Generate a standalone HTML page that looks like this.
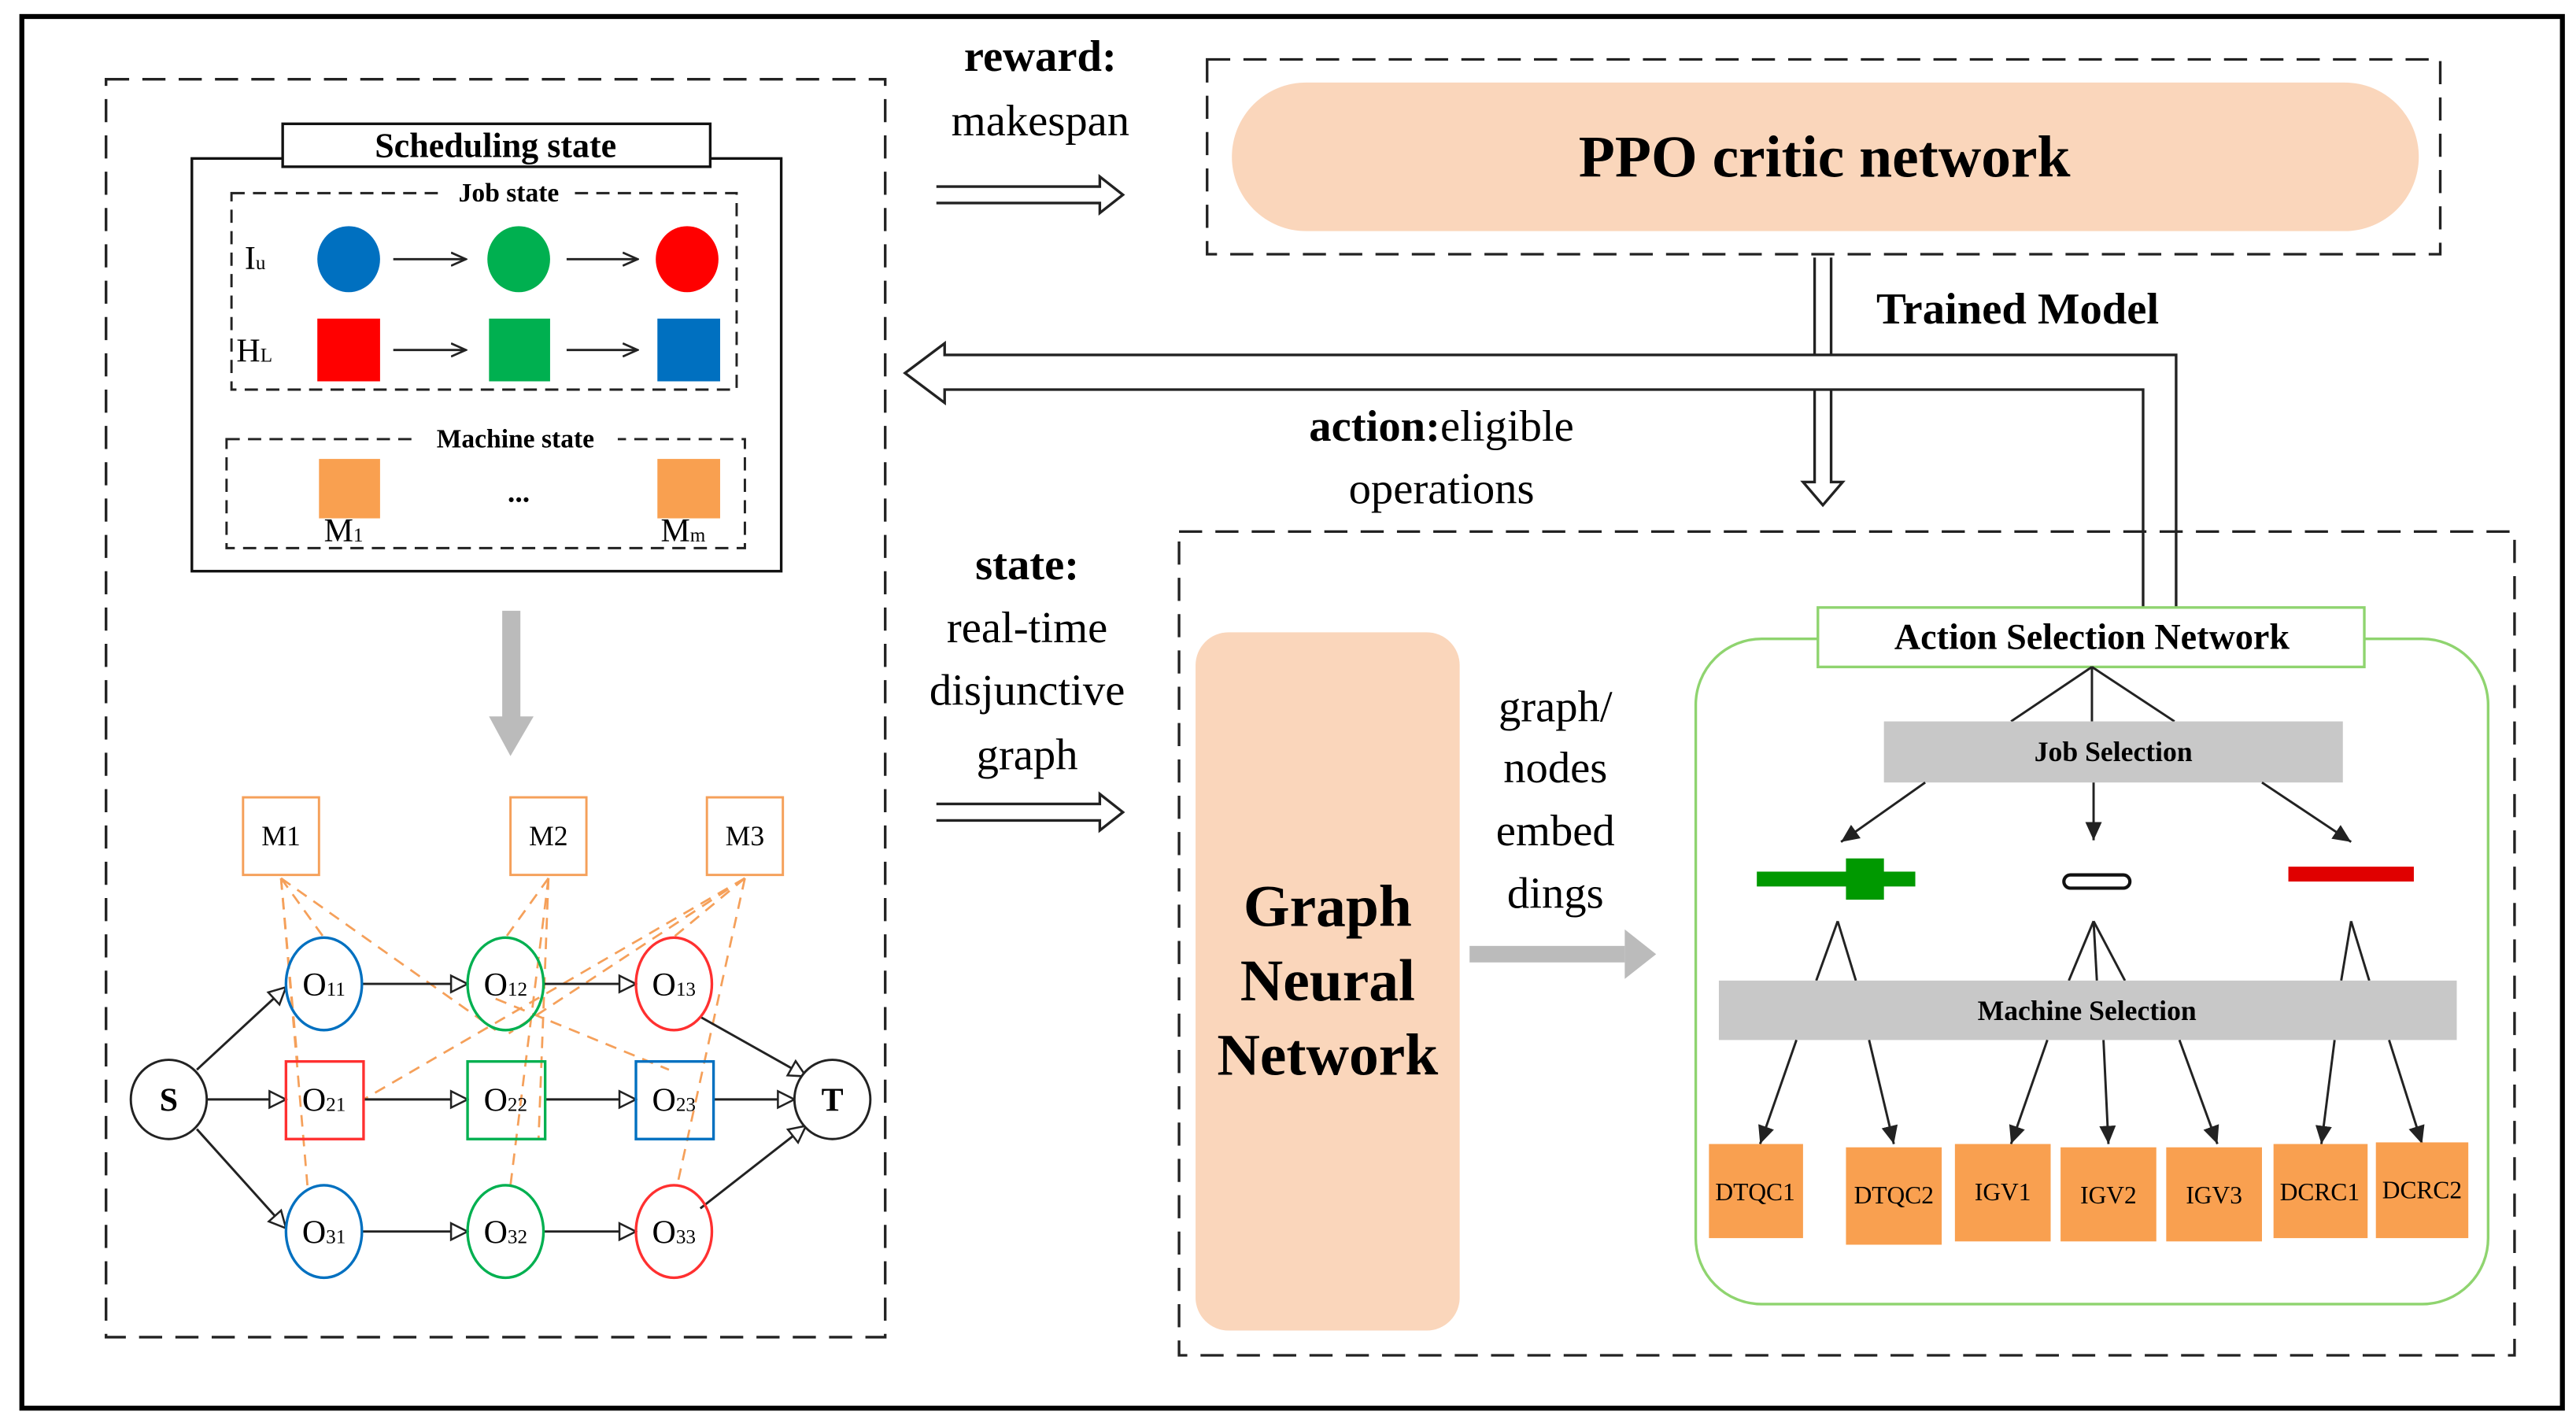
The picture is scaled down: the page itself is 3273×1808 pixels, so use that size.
<!DOCTYPE html>
<html><head><meta charset="utf-8"><style>
html,body{margin:0;padding:0;background:#fff;}
svg{display:block;}
text{font-family:"Liberation Serif","Noto Serif CJK SC","DejaVu Serif",serif;}
</style></head><body>
<svg width="3273" height="1808" viewBox="0 0 1560 862" xmlns="http://www.w3.org/2000/svg">
<defs>
<marker id="ah" markerWidth="10" markerHeight="10" refX="9" refY="5" orient="auto" markerUnits="userSpaceOnUse"><path d="M0,1 L9,5 L0,9" fill="none" stroke="#222" stroke-width="1.3"/></marker>
<marker id="ho" markerWidth="12" markerHeight="12" refX="11" refY="6" orient="auto" markerUnits="userSpaceOnUse"><path d="M1,1 L11,6 L1,11 Z" fill="#fff" stroke="#222" stroke-width="1.2"/></marker>
<marker id="fa" markerWidth="12" markerHeight="12" refX="11" refY="6" orient="auto" markerUnits="userSpaceOnUse"><path d="M0,1 L11,6 L0,11 Z" fill="#222"/></marker>
</defs>
<rect width="1560" height="862" fill="#fff"/>
<rect x="13" y="10" width="1539" height="843" fill="none" stroke="#000" stroke-width="3"/>

<rect x="64" y="48" width="472" height="762" fill="none" stroke="#222" stroke-width="1.6" stroke-dasharray="14,8"/>
<rect x="116" y="96" width="357" height="250" fill="none" stroke="#111" stroke-width="1.6"/>
<rect x="171" y="75" width="259" height="26" fill="#fff" stroke="#111" stroke-width="1.6"/>
<text x="300" y="95" font-size="21" font-weight="bold" text-anchor="middle">Scheduling state</text>
<rect x="140" y="117" width="306" height="119" fill="none" stroke="#222" stroke-width="1.4" stroke-dasharray="8,5"/>
<rect x="268" y="108" width="80" height="16" fill="#fff"/>
<text x="308" y="122" font-size="16" font-weight="bold" text-anchor="middle">Job state</text>
<text x="148" y="163" font-size="20">I<tspan font-size="12">u</tspan></text>
<text x="143" y="219" font-size="20">H<tspan font-size="12">L</tspan></text>
<ellipse cx="211" cy="157" rx="19" ry="20" fill="#0070c0"/>
<ellipse cx="314" cy="157" rx="19" ry="20" fill="#00b050"/>
<ellipse cx="416" cy="157" rx="19" ry="20" fill="#ff0000"/>
<rect x="192" y="193" width="38" height="38" fill="#ff0000"/>
<rect x="296" y="193" width="37" height="38" fill="#00b050"/>
<rect x="398" y="193" width="38" height="38" fill="#0070c0"/>
<g stroke="#222" stroke-width="1.4" marker-end="url(#ah)">
<line x1="238" y1="157" x2="282" y2="157"/><line x1="343" y1="157" x2="386" y2="157"/>
<line x1="238" y1="212" x2="282" y2="212"/><line x1="343" y1="212" x2="386" y2="212"/>
</g>
<rect x="137" y="266" width="314" height="66" fill="none" stroke="#222" stroke-width="1.4" stroke-dasharray="8,5"/>
<rect x="252" y="257" width="122" height="16" fill="#fff"/>
<text x="312" y="271" font-size="16" font-weight="bold" text-anchor="middle">Machine state</text>
<rect x="193" y="278" width="37" height="36" fill="#f9a050"/>
<rect x="398" y="278" width="38" height="36" fill="#f9a050"/>
<text x="314" y="304" font-size="18" font-weight="bold" text-anchor="middle">...</text>
<text x="196" y="328" font-size="20">M<tspan font-size="12">1</tspan></text>
<text x="400" y="328" font-size="20">M<tspan font-size="12">m</tspan></text>

<rect x="304" y="370" width="11" height="66" fill="#bbb"/>
<path d="M296,434 L323,434 L309,458 Z" fill="#bbb"/>

<g fill="#fff" stroke="#f5a05a" stroke-width="1.4">
<rect x="147" y="483" width="46" height="47"/><rect x="309" y="483" width="46" height="47"/><rect x="428" y="483" width="46" height="47"/>
</g>
<g font-size="17" text-anchor="middle"><text x="170" y="512">M1</text><text x="332" y="512">M2</text><text x="451" y="512">M3</text></g>
<g stroke="#f5a05a" stroke-width="1.3" stroke-dasharray="7,5" fill="none">
<line x1="170" y1="532" x2="196" y2="568"/>
<line x1="170" y1="532" x2="300" y2="624"/>
<line x1="170" y1="532" x2="180" y2="643"/>
<line x1="170" y1="532" x2="186" y2="718"/>
<line x1="332" y1="532" x2="306" y2="568"/>
<line x1="332" y1="532" x2="326" y2="690"/>
<line x1="332" y1="532" x2="309" y2="718"/>
<line x1="300" y1="605" x2="405" y2="648"/>
<line x1="451" y1="532" x2="308" y2="626"/>
<line x1="451" y1="532" x2="220" y2="666"/>
<line x1="451" y1="532" x2="405" y2="570"/>
<line x1="451" y1="532" x2="410" y2="718"/>
</g>
<g stroke="#222" stroke-width="1.4" fill="none" marker-end="url(#ho)">
<line x1="119" y1="648" x2="173" y2="598"/>
<line x1="125" y1="666" x2="173" y2="666"/>
<line x1="119" y1="684" x2="173" y2="744"/>
<line x1="219" y1="596" x2="283" y2="596"/>
<line x1="329" y1="596" x2="385" y2="596"/>
<line x1="220" y1="666" x2="283" y2="666"/>
<line x1="330" y1="666" x2="385" y2="666"/>
<line x1="432" y1="666" x2="481" y2="666"/>
<line x1="219" y1="746" x2="283" y2="746"/>
<line x1="329" y1="746" x2="385" y2="746"/>
<line x1="424" y1="616" x2="488" y2="652"/>
<line x1="424" y1="732" x2="488" y2="682"/>
</g>
<ellipse cx="102" cy="666" rx="23" ry="24" fill="#fff" stroke="#222" stroke-width="1.4"/>
<ellipse cx="504" cy="666" rx="23" ry="24" fill="#fff" stroke="#222" stroke-width="1.4"/>
<g fill="none" stroke-width="1.6">
<ellipse cx="196" cy="596" rx="23" ry="28" stroke="#0070c0"/>
<ellipse cx="306" cy="596" rx="23" ry="28" stroke="#00b050"/>
<ellipse cx="408" cy="596" rx="23" ry="28" stroke="#ff3030"/>
<rect x="173" y="643" width="47" height="47" stroke="#ff3030"/>
<rect x="283" y="643" width="47" height="47" stroke="#00b050"/>
<rect x="385" y="643" width="47" height="47" stroke="#0070c0"/>
<ellipse cx="196" cy="746" rx="23" ry="28" stroke="#0070c0"/>
<ellipse cx="306" cy="746" rx="23" ry="28" stroke="#00b050"/>
<ellipse cx="408" cy="746" rx="23" ry="28" stroke="#ff3030"/>
</g>
<g font-size="20" text-anchor="middle">
<text x="102" y="673" font-weight="bold">S</text><text x="504" y="673" font-weight="bold">T</text>
<text x="196" y="603">O<tspan font-size="12">11</tspan></text><text x="306" y="603">O<tspan font-size="12">12</tspan></text><text x="408" y="603">O<tspan font-size="12">13</tspan></text>
<text x="196" y="673">O<tspan font-size="12">21</tspan></text><text x="306" y="673">O<tspan font-size="12">22</tspan></text><text x="408" y="673">O<tspan font-size="12">23</tspan></text>
<text x="196" y="753">O<tspan font-size="12">31</tspan></text><text x="306" y="753">O<tspan font-size="12">32</tspan></text><text x="408" y="753">O<tspan font-size="12">33</tspan></text>
</g>

<g font-size="27" text-anchor="middle">
<text x="630" y="43" font-weight="bold">reward:</text>
<text x="630" y="82">makespan</text>
<text x="622" y="351" font-weight="bold">state:</text>
<text x="622" y="389">real-time</text>
<text x="622" y="427">disjunctive</text>
<text x="622" y="466">graph</text>
<text x="873" y="267"><tspan font-weight="bold">action:</tspan>eligible</text>
<text x="873" y="305">operations</text>
<text x="942" y="437">graph/</text>
<text x="942" y="474">nodes</text>
<text x="942" y="512">embed</text>
<text x="942" y="550">dings</text>
<text x="1222" y="196" font-weight="bold">Trained Model</text>
</g>
<path d="M567,113 L666,113 L666,107 L680,118 L666,129 L666,123 L567,123" fill="#fff" stroke="#222" stroke-width="1.6"/>
<path d="M567,487 L666,487 L666,481 L680,492 L666,503 L666,497 L567,497" fill="#fff" stroke="#222" stroke-width="1.6"/>

<rect x="731" y="36" width="747" height="118" fill="none" stroke="#222" stroke-width="1.6" stroke-dasharray="14,8"/>
<rect x="746" y="50" width="719" height="90" rx="45" fill="#fad6bb"/>
<text x="1105" y="107" font-size="36" font-weight="bold" text-anchor="middle">PPO critic network</text>
<path d="M1099,156 L1099,292 L1092,292 L1104,306 L1116,292 L1109,292 L1109,156" fill="#fff" stroke="#222" stroke-width="1.6"/>
<path d="M1318,385 L1318,215 L572,215 L572,208 L548,226 L572,244 L572,236 L1298,236 L1298,385" fill="#fff" stroke="#222" stroke-width="1.6"/>

<rect x="714" y="322" width="809" height="499" fill="none" stroke="#222" stroke-width="1.6" stroke-dasharray="14,8"/>
<rect x="724" y="383" width="160" height="423" rx="20" fill="#fad6bb"/>
<g font-size="36" font-weight="bold" text-anchor="middle"><text x="804" y="561">Graph</text><text x="804" y="606">Neural</text><text x="804" y="651">Network</text></g>
<rect x="890" y="573" width="94" height="10" fill="#bbb"/>
<path d="M984,563 L1003,578 L984,593 Z" fill="#bbb"/>

<rect x="1027" y="387" width="480" height="403" rx="40" fill="none" stroke="#8fd46f" stroke-width="1.6"/>
<rect x="1101" y="368" width="331" height="36" fill="#fff" stroke="#8fd46f" stroke-width="1.6"/>
<text x="1267" y="393" font-size="22" font-weight="bold" text-anchor="middle">Action Selection Network</text>
<g stroke="#222" stroke-width="1.4">
<line x1="1267" y1="404" x2="1218" y2="437"/><line x1="1267" y1="404" x2="1267" y2="437"/><line x1="1267" y1="404" x2="1317" y2="437"/>
<line x1="1113" y1="558" x2="1100" y2="594"/><line x1="1113" y1="558" x2="1124" y2="594"/>
<line x1="1268" y1="558" x2="1253" y2="594"/><line x1="1268" y1="558" x2="1270" y2="594"/><line x1="1268" y1="558" x2="1287" y2="594"/>
<line x1="1424" y1="558" x2="1418" y2="594"/><line x1="1424" y1="558" x2="1435" y2="594"/>
</g>
<rect x="1141" y="437" width="278" height="37" fill="#c8c8c8"/>
<text x="1280" y="461" font-size="17" font-weight="bold" text-anchor="middle">Job Selection</text>
<rect x="1041" y="594" width="447" height="36" fill="#c8c8c8"/>
<text x="1264" y="618" font-size="17" font-weight="bold" text-anchor="middle">Machine Selection</text>
<g stroke="#222" stroke-width="1.4" marker-end="url(#fa)">
<line x1="1166" y1="474" x2="1115" y2="510"/><line x1="1268" y1="474" x2="1268" y2="509"/><line x1="1370" y1="474" x2="1424" y2="510"/>
<line x1="1088" y1="630" x2="1066" y2="693"/><line x1="1132" y1="630" x2="1147" y2="693"/>
<line x1="1240" y1="630" x2="1218" y2="693"/><line x1="1274" y1="630" x2="1277" y2="693"/><line x1="1320" y1="630" x2="1343" y2="693"/>
<line x1="1414" y1="630" x2="1406" y2="693"/><line x1="1447" y1="630" x2="1467" y2="693"/>
</g>
<rect x="1064" y="528" width="96" height="9" fill="#009900"/>
<rect x="1118" y="520" width="23" height="25" fill="#009900"/>
<rect x="1250" y="530" width="40" height="8" rx="4" fill="#fff" stroke="#111" stroke-width="2"/>
<rect x="1386" y="525" width="76" height="9" fill="#e00000"/>
<g fill="#f9a050">
<rect x="1035" y="693" width="57" height="57"/><rect x="1118" y="695" width="58" height="59"/><rect x="1184" y="693" width="58" height="59"/>
<rect x="1248" y="695" width="58" height="57"/><rect x="1312" y="695" width="58" height="57"/><rect x="1377" y="693" width="57" height="57"/><rect x="1439" y="692" width="56" height="58"/>
</g>
<g font-size="15" text-anchor="middle">
<text x="1063" y="727">DTQC1</text><text x="1147" y="729">DTQC2</text><text x="1213" y="727">IGV1</text>
<text x="1277" y="729">IGV2</text><text x="1341" y="729">IGV3</text><text x="1405" y="727">DCRC1</text><text x="1467" y="726">DCRC2</text>
</g>
</svg>
</body></html>
